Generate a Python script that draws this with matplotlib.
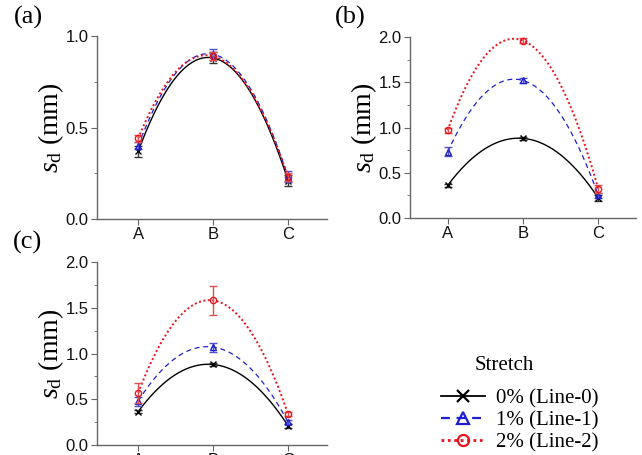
import numpy as np
import matplotlib
matplotlib.use("Agg")
import matplotlib.pyplot as plt
from matplotlib.ticker import MultipleLocator

plt.rcParams['font.family'] = ['Liberation Sans', 'DejaVu Sans']
plt.rcParams['mathtext.fontset'] = 'custom'
plt.rcParams['mathtext.rm'] = 'Liberation Serif'
plt.rcParams['mathtext.it'] = 'Liberation Serif:italic'

positions = ["A", "B", "C"]
series_labels = ["0% (Line-0)", "1% (Line-1)", "2% (Line-2)"]

# panel (a)
a_line0 = [0.37, 0.88, 0.21]
a_line0_err = [0.03, 0.03, 0.03]
a_line1 = [0.40, 0.90, 0.23]
a_line1_err = [0.02, 0.03, 0.03]
a_line2 = [0.44, 0.89, 0.23]
a_line2_err = [0.02, 0.02, 0.02]

# panel (b)
b_line0 = [0.36, 0.88, 0.22]
b_line0_err = [0.02, 0.02, 0.03]
b_line1 = [0.73, 1.52, 0.25]
b_line1_err = [0.05, 0.03, 0.03]
b_line2 = [0.97, 1.96, 0.32]
b_line2_err = [0.03, 0.03, 0.04]

# panel (c)
c_line0 = [0.365, 0.88, 0.21]
c_line0_err = [0.02, 0.02, 0.02]
c_line1 = [0.48, 1.07, 0.25]
c_line1_err = [0.05, 0.05, 0.02]
c_line2 = [0.57, 1.58, 0.34]
c_line2_err = [0.11, 0.16, 0.02]

colors = ["black", "#1f1fd0", "#e8141e"]
err_colors = ["#333333", "#5050c8", "#e05050"]
styles = ["-", (0, (4, 3)), (0, (1, 1.3))]
widths = [1.0, 0.9, 1.4]
markers = ["x", "^", "o"]

W, H = 642, 455
fig = plt.figure(figsize=(W / 100, H / 100), dpi=100)


def panel(rect, data, errs, ymax, ystep, letter, letter_xy):
    ax = fig.add_axes(rect)
    x = np.arange(len(positions))
    xs = np.linspace(0, 2, 200)
    for i in range(3):
        coef = np.polyfit(x, data[i], 2)
        ax.plot(xs, np.polyval(coef, xs), color=colors[i], ls=styles[i], lw=widths[i])
        ax.errorbar(x, data[i], yerr=errs[i], fmt='none', ecolor=err_colors[i],
                    elinewidth=1.0, capsize=3, capthick=1.0)
        ax.plot(x, data[i], ls='none', marker=markers[i], ms=4.5,
                mfc='none', mec=colors[i], mew=1.0)
    ax.set_xlim(-0.55, 2.52)
    ax.set_ylim(0, ymax)
    ax.set_xticks(x)
    ax.set_xticklabels(positions)
    ax.yaxis.set_major_locator(MultipleLocator(ystep))
    ax.yaxis.set_minor_locator(MultipleLocator(ystep / 2))
    ax.yaxis.set_major_formatter(matplotlib.ticker.FormatStrFormatter('%.1f'))
    for s in ['top', 'right']:
        ax.spines[s].set_visible(False)
    for s in ['left', 'bottom']:
        ax.spines[s].set_color('#666666')
        ax.spines[s].set_linewidth(1.0)
    ax.tick_params(axis='both', which='major', direction='out', length=4,
                   color='#666666', labelsize=12, labelcolor='#111111', pad=2)
    ax.tick_params(axis='y', which='minor', direction='out', length=2, color='#666666')
    ax.set_ylabel(r"$s_\mathrm{d}$ (mm)", fontsize=20, family='Liberation Serif', labelpad=0)
    fig.text(letter_xy[0] / W, 1 - letter_xy[1] / H, letter, fontsize=19,
             family='Liberation Serif', ha='center', va='center')
    return ax


panel([97 / W, 1 - 219 / H, 230 / W, 183 / H],
      [a_line0, a_line1, a_line2], [a_line0_err, a_line1_err, a_line2_err], 1.0, 0.5, "(a)", (28, 17))
axb = panel([410 / W, 1 - 218 / H, 226 / W, 181 / H],
            [b_line0, b_line1, b_line2], [b_line0_err, b_line1_err, b_line2_err], 2.0, 0.5, "(b)", (350, 17))
axb.set_xlim(-0.5, 2.5)
panel([97 / W, 1 - 445 / H, 230 / W, 183 / H],
      [c_line0, c_line1, c_line2], [c_line0_err, c_line1_err, c_line2_err], 2.0, 0.5, "(c)", (28, 242))

handles = []
for i in range(3):
    h, = plt.plot([], [], color=colors[i], ls=styles[i], lw=[1.3, 1.6, 2.0][i],
                  marker=markers[i], ms=9 if i == 0 else 8, mfc='none', mec=colors[i], mew=1.6)
    handles.append(h)
leg = fig.legend(handles, series_labels, loc='lower left',
                 bbox_to_anchor=(431 / W, -8 / H), frameon=False,
                 prop={'family': 'Liberation Serif', 'size': 15},
                 handlelength=2.1, handletextpad=0.5, labelspacing=0.12, borderaxespad=0.1)
fig.text(504 / W, 1 - 366 / H, "Stretch", fontsize=15, family='Liberation Serif',
         ha='center', va='center')

fig.savefig("out.png", dpi=100)
